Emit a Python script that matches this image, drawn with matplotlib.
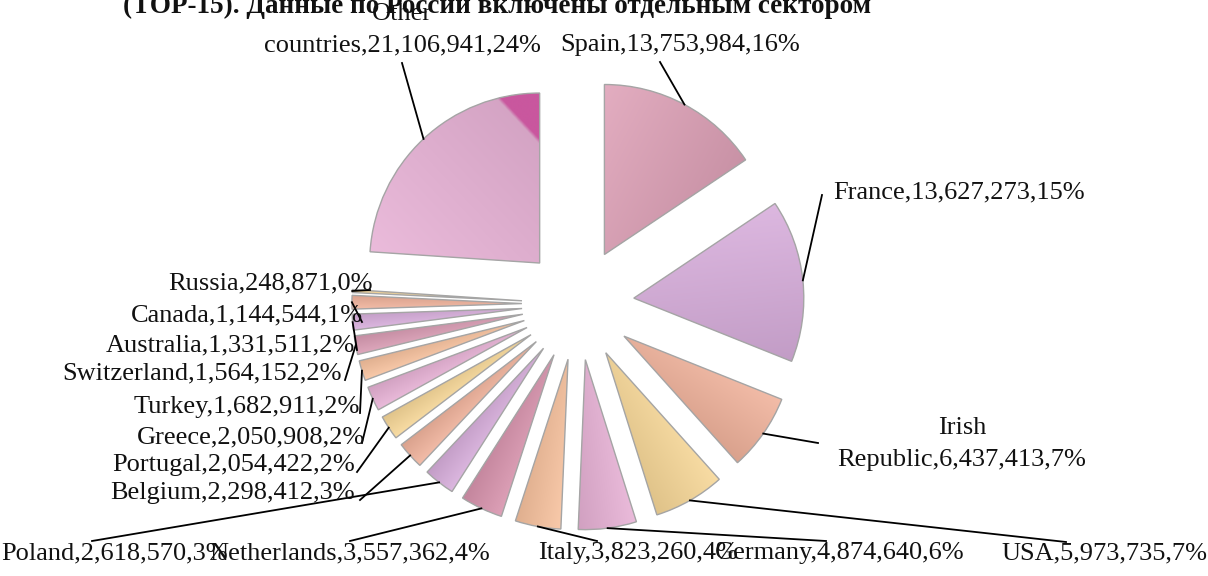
import numpy as np
import matplotlib.pyplot as plt
from matplotlib.patches import Wedge
from matplotlib.colors import to_rgb

plt.rcParams['font.family'] = ['Liberation Serif', 'DejaVu Serif']

# data
countries = ['Spain', 'France', 'Irish\nRepublic', 'USA', 'Germany', 'Italy',
             'Netherlands', 'Poland', 'Belgium', 'Portugal', 'Greece', 'Turkey',
             'Switzerland', 'Australia', 'Canada', 'Russia', 'Other\ncountries']
values = [13753984, 13627273, 6437413, 5973735, 4874640, 3823260,
          3557362, 2618570, 2298412, 2054422, 2050908, 1682911,
          1564152, 1331511, 1144544, 248871, 21106941]
title = '(TOP-15). Данные по России включены отдельным сектором'

palette = ['#DFA2B8', '#D8AEDC', '#F1B39C', '#F8D898', '#E8B2D6', '#F8C29E']
colors = [palette[i % 6] for i in range(len(values))]
colors[6] = '#D994AE'
colors[12] = '#DA9CB4'

# label layout in image pixels: (x, y, ha) and where the leader line ends
label_pos = [(680, 45, 'center'), (833, 192, 'left'), (962, 444, 'center'),
             (1104, 553, 'center'), (840, 553, 'center'), (638, 553, 'center'),
             (350, 553, 'center'), (115, 553, 'center'), (355, 493, 'right'),
             (355, 465, 'right'), (365, 437, 'right'), (360, 407, 'right'),
             (342, 373, 'right'), (355, 345, 'right'), (363, 315, 'right'),
             (373, 283, 'right'), (402, 30, 'center')]
line_end = [(660, 62), (822, 195), (818, 443), (1066, 542), (826, 541),
            (597, 541), (350, 541), (92, 541), (360, 500), (357, 472),
            (362, 443), (360, 413), (345, 380), (357, 350), (362, 322),
            (370, 290), (402, 63)]

W, H = 1208, 576
cx, cy, R = 578, 304, 170   # pie centre / radius in pixels


def px(x, y):
    return (x - cx) / R, (cy - y) / R


fig = plt.figure(figsize=(W / 100, H / 100), dpi=100)
ax = fig.add_axes([0, 0, 1, 1])

wedges, _ = ax.pie(values, colors=colors, startangle=90, counterclock=False,
                   explode=[0.33] * len(values),
                   wedgeprops=dict(edgecolor='none', linewidth=0))

# soft linear shading across each slice, darker toward its clockwise side
for i, (w, c) in enumerate(zip(wedges, colors)):
    bb = w.get_path().get_extents()
    xs = np.linspace(bb.x0, bb.x1, 200)
    ys = np.linspace(bb.y0, bb.y1, 200)
    X, Y = np.meshgrid(xs, ys)
    d = np.deg2rad((w.theta1 + w.theta2) / 2 - 90)
    p = X * np.cos(d) + Y * np.sin(d)
    verts = w.get_path().vertices
    pv = verts[:, 0] * np.cos(d) + verts[:, 1] * np.sin(d)
    t = np.clip((p - pv.min()) / (pv.max() - pv.min()), 0, 1)[..., None]
    base = np.array(to_rgb(c))
    light = base + (1 - base) * 0.12
    dark = base * 0.9
    img = light * (1 - t) + dark * t
    if i == len(values) - 1:
        tip = np.array(to_rgb('#C9579E'))
        k = np.clip((t - 0.85) / 0.015, 0, 1)
        img = img * (1 - k) + tip * k
    im = ax.imshow(img, extent=[bb.x0, bb.x1, bb.y0, bb.y1], origin='lower',
                   interpolation='bilinear', zorder=1.5)
    im.set_clip_path(w)
    ax.add_patch(Wedge(w.center, w.r, w.theta1, w.theta2, fill=False,
                       edgecolor='#A5A5A5', linewidth=1, zorder=2))

ax.set_xlim(px(0, 0)[0], px(W, 0)[0])
ax.set_ylim(px(0, H)[1], px(0, 0)[1])
ax.set_aspect('equal')
ax.axis('off')

total = sum(values)
for w, name, v, (lx, ly, ha), (ex, ey) in zip(wedges, countries, values, label_pos, line_end):
    mid = np.deg2rad((w.theta1 + w.theta2) / 2)
    ax0, ay0 = w.center[0] + w.r * np.cos(mid), w.center[1] + w.r * np.sin(mid)
    x1, y1 = px(ex, ey)
    ax.plot([ax0, x1], [ay0, y1], color='black', lw=1.3, zorder=3)
    txt = f'{name},{v:,},{round(v / total * 100)}%'
    tx, ty = px(lx, ly)
    ax.text(tx, ty, txt, ha=ha, va='center', fontsize=19, color='#111111',
            multialignment='center', linespacing=1.55, zorder=4)

tx, ty = px(497, 13)
ax.text(tx, ty, title, ha='center', va='baseline', fontsize=19.5,
        fontweight='bold', color='#111111')

fig.savefig('out.png', dpi=100)
